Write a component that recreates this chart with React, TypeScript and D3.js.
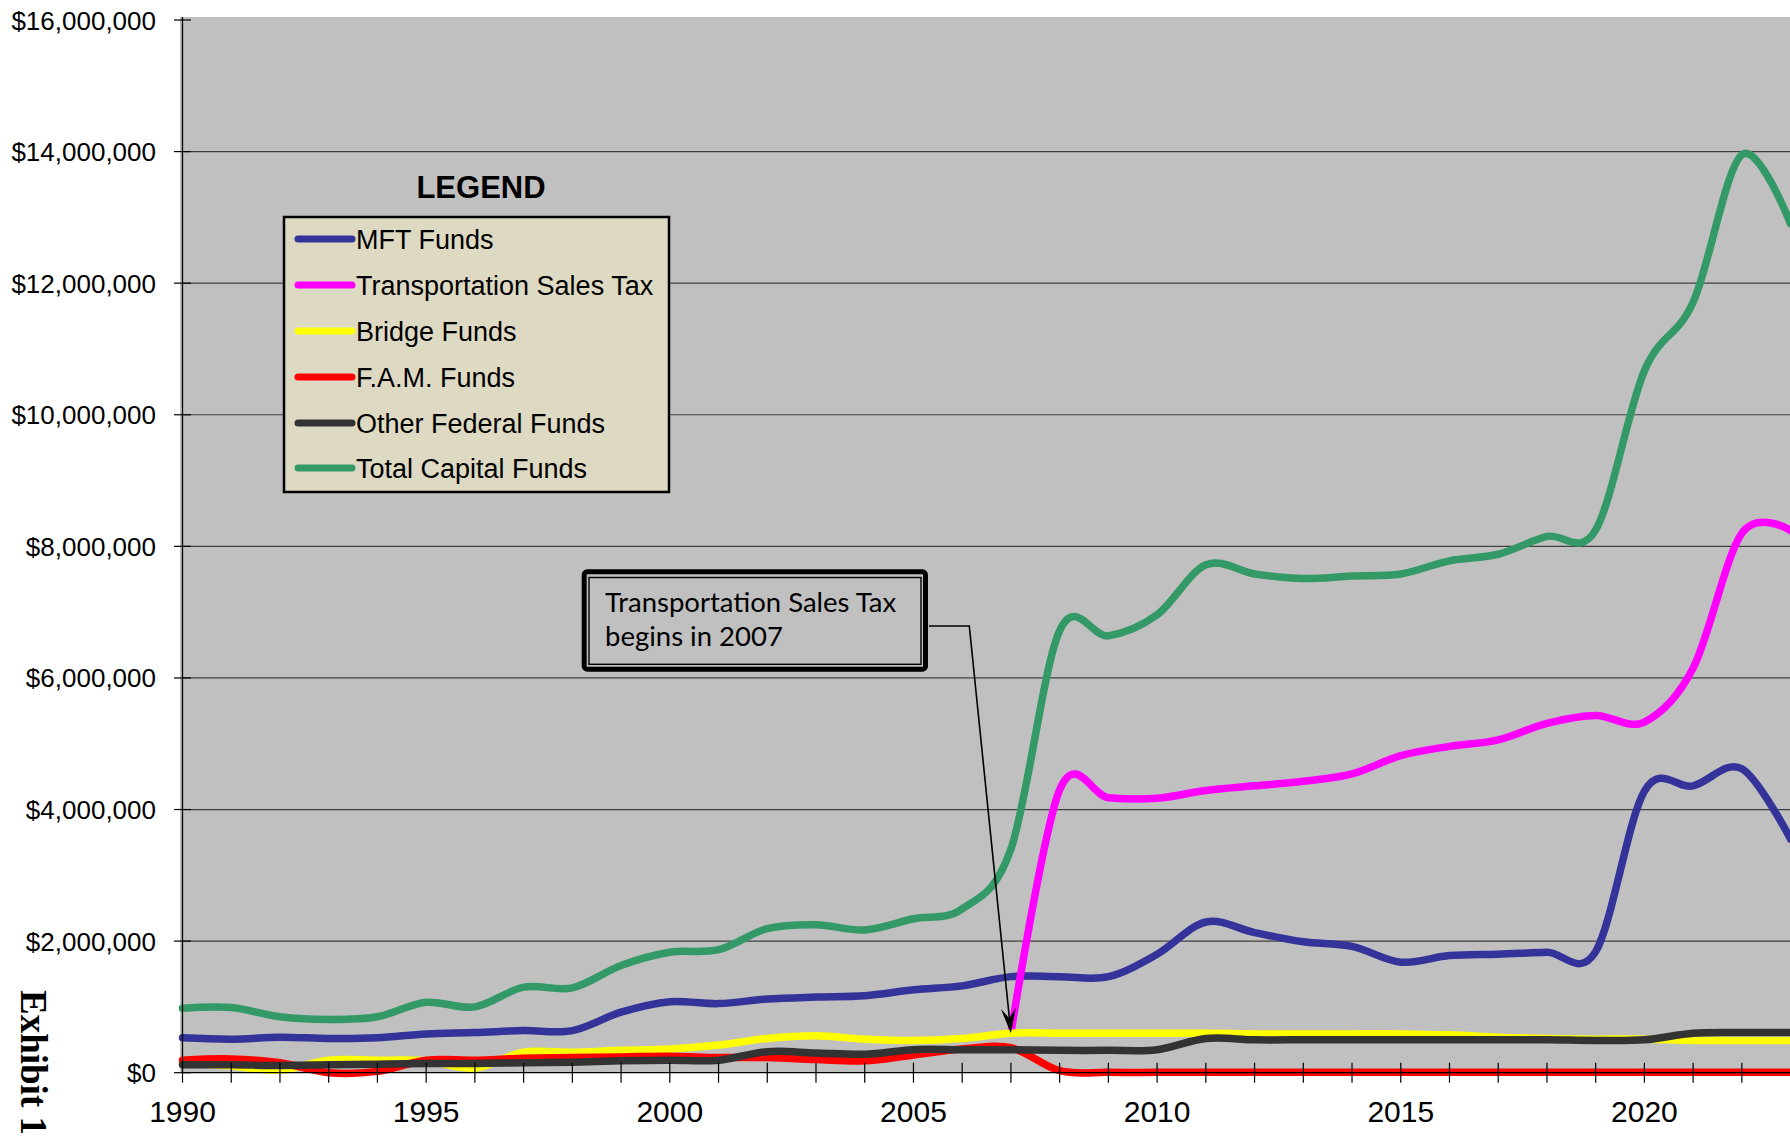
import React from 'react';
import * as d3 from 'd3';

const years = [
  1990, 1991, 1992, 1993, 1994, 1995, 1996, 1997, 1998, 1999,
  2000, 2001, 2002, 2003, 2004, 2005, 2006, 2007, 2008, 2009,
  2010, 2011, 2012, 2013, 2014, 2015, 2016, 2017, 2018, 2019,
  2020, 2021, 2022, 2023,
];

const mftFunds = [
  530000, 510000, 540000, 520000, 530000, 590000, 610000, 640000, 640000, 920000,
  1080000, 1050000, 1120000, 1150000, 1170000, 1260000, 1320000, 1460000, 1460000, 1460000,
  1800000, 2290000, 2130000, 1990000, 1920000, 1680000, 1780000, 1800000, 1830000, 1840000,
  4280000, 4360000, 4620000, 3550000,
];

const salesTax = [
  null, null, null, null, null, null, null, null, null, null,
  null, null, null, null, null, null, null, 600000, 4300000, 4180000,
  4170000, 4290000, 4360000, 4430000, 4540000, 4820000, 4960000, 5060000, 5310000, 5430000,
  5330000, 6150000, 8200000, 8240000,
];

const bridgeFunds = [
  150000, 100000, 40000, 190000, 190000, 180000, 70000, 310000, 310000, 340000,
  360000, 420000, 520000, 560000, 510000, 490000, 520000, 600000, 600000, 600000,
  600000, 600000, 590000, 590000, 590000, 590000, 575000, 540000, 520000, 510000,
  510000, 490000, 490000, 490000,
];

const famFunds = [
  190000, 210000, 150000, 0, 20000, 190000, 190000, 220000, 230000, 240000,
  250000, 230000, 230000, 200000, 180000, 270000, 360000, 380000, 30000, 5000,
  5000, 5000, 5000, 5000, 5000, 5000, 5000, 5000, 5000, 5000,
  5000, 5000, 5000, 5000,
];

const otherFederal = [
  120000, 120000, 110000, 120000, 130000, 140000, 140000, 150000, 160000, 180000,
  190000, 190000, 320000, 300000, 280000, 350000, 350000, 350000, 340000, 340000,
  350000, 520000, 500000, 500000, 500000, 500000, 500000, 500000, 500000, 490000,
  500000, 600000, 610000, 610000,
];

const totalCapital = [
  980000, 990000, 850000, 810000, 850000, 1070000, 1000000, 1300000, 1290000, 1630000,
  1830000, 1870000, 2190000, 2250000, 2170000, 2340000, 2490000, 3400000, 6720000, 6640000,
  6960000, 7720000, 7580000, 7510000, 7550000, 7580000, 7780000, 7880000, 8150000, 8250000,
  10670000, 11710000, 13950000, 12900000,
];

const seriesNames = [
  'MFT Funds',
  'Transportation Sales Tax',
  'Bridge Funds',
  'F.A.M. Funds',
  'Other Federal Funds',
  'Total Capital Funds',
];
const seriesColors = ['#333399', '#FF00FF', '#FFFF00', '#FF0000', '#333333', '#339966'];
const seriesValues = [mftFunds, salesTax, bridgeFunds, famFunds, otherFederal, totalCapital];

const yTicks = [0, 2000000, 4000000, 6000000, 8000000, 10000000, 12000000, 14000000, 16000000];
const xLabels = [1990, 1995, 2000, 2005, 2010, 2015, 2020];

const SANS = '"Liberation Sans", Arial, sans-serif';

export default function App() {
  const x = d3.scaleLinear().domain([1990, 2023]).range([182.5, 1790.6]);
  const y = d3.scaleLinear().domain([0, 16000000]).range([1072.7, 20]);
  const fmt = d3.format('$,.0f');

  const line = d3
    .line<number | null>()
    .defined((d) => d != null)
    .x((_, i) => x(years[i]))
    .y((d) => y(d as number))
    .curve(d3.curveCardinal.tension(0));

  // callout arrow points at the first Transportation Sales Tax year
  const tipX = x(2007);
  const tipY = y(bridgeFunds[years.indexOf(2007)]);
  const elbow = [969.3, 626];
  const dx = tipX - elbow[0];
  const dy = tipY - elbow[1];
  const len = Math.hypot(dx, dy);
  const ux = dx / len;
  const uy = dy / len;
  const head = [
    [tipX, tipY],
    [tipX - ux * 25 - uy * 7.5, tipY - uy * 25 + ux * 7.5],
    [tipX - ux * 15, tipY - uy * 15],
    [tipX - ux * 25 + uy * 7.5, tipY - uy * 25 - ux * 7.5],
  ];

  const legendRows = [239, 285, 331, 377, 423, 468];

  return (
    <svg
      width={1790}
      height={1136}
      style={{ position: 'absolute', left: 0, top: 0, background: '#fff' }}
    >
      {/* plot area */}
      <rect x={180} y={17} width={1610} height={1056} fill="#C0C0C0" />

      {yTicks.slice(1, -1).map((t) => (
        <line key={t} x1={182.5} x2={1790} y1={y(t)} y2={y(t)} stroke="#404040" strokeWidth={1.2} />
      ))}

      {/* series */}
      {seriesValues.map((vals, i) => (
        <path
          key={seriesNames[i]}
          d={line(vals) || ''}
          fill="none"
          stroke={seriesColors[i]}
          strokeWidth={7.5}
          strokeLinecap="round"
          strokeLinejoin="round"
        />
      ))}

      {/* axes */}
      <line x1={182.5} x2={182.5} y1={17} y2={1073} stroke="#000" strokeWidth={1.3} />
      <line x1={182.5} x2={1790} y1={y(0)} y2={y(0)} stroke="#000" strokeWidth={1.3} />
      {yTicks.map((t) => (
        <g key={t}>
          <line x1={174} x2={191} y1={y(t)} y2={y(t)} stroke="#000" strokeWidth={1.2} />
          <text
            x={156}
            y={y(t) + 9.5}
            textAnchor="end"
            fontFamily={SANS}
            fontSize={26}
            fill="#000"
          >
            {fmt(t)}
          </text>
        </g>
      ))}
      {years.map((yr) => (
        <line key={yr} x1={x(yr)} x2={x(yr)} y1={y(0) - 10} y2={y(0) + 10} stroke="#000" strokeWidth={1.2} />
      ))}
      {xLabels.map((yr) => (
        <text key={yr} x={x(yr)} y={1122} textAnchor="middle" fontFamily={SANS} fontSize={30} fill="#000">
          {yr}
        </text>
      ))}

      {/* legend */}
      <text x={481} y={198} textAnchor="middle" fontFamily={SANS} fontSize={31} fontWeight="bold">
        LEGEND
      </text>
      <rect x={284} y={217} width={385} height={275} fill="#DDD9C3" stroke="#000" strokeWidth={2.5} />
      {seriesNames.map((name, i) => (
        <g key={name}>
          <line
            x1={298}
            x2={352}
            y1={legendRows[i]}
            y2={legendRows[i]}
            stroke={seriesColors[i]}
            strokeWidth={7}
            strokeLinecap="round"
          />
          <text x={356} y={legendRows[i] + 9.5} fontFamily={SANS} fontSize={27} fill="#000">
            {name}
          </text>
        </g>
      ))}

      {/* callout */}
      <rect x={584.2} y={571.8} width={341.3} height={97.4} rx={3} fill="#C0C0C0" stroke="#000" strokeWidth={5} />
      <rect x={589} y={577.5} width={332} height={86.8} fill="none" stroke="#000" strokeWidth={1.4} />
      <text fontFamily='Lato, "Open Sans", sans-serif' fontSize={27.5} fill="#000">
        <tspan x={605} y={612}>Transportation Sales Tax</tspan>
        <tspan x={605} y={646}>begins in 2007</tspan>
      </text>
      <polyline
        points={`929,${elbow[1]} ${elbow[0]},${elbow[1]} ${tipX - ux * 14},${tipY - uy * 14}`}
        fill="none"
        stroke="#000"
        strokeWidth={1.6}
      />
      <path d={`M${head.map((p) => p.join(',')).join('L')}Z`} fill="#000" />

      <text
        transform="translate(21,990) rotate(90)"
        fontFamily='"Liberation Serif", "Times New Roman", serif'
        fontWeight="bold"
        fontSize={37}
        fill="#000"
      >
        Exhibit 1
      </text>
    </svg>
  );
}
